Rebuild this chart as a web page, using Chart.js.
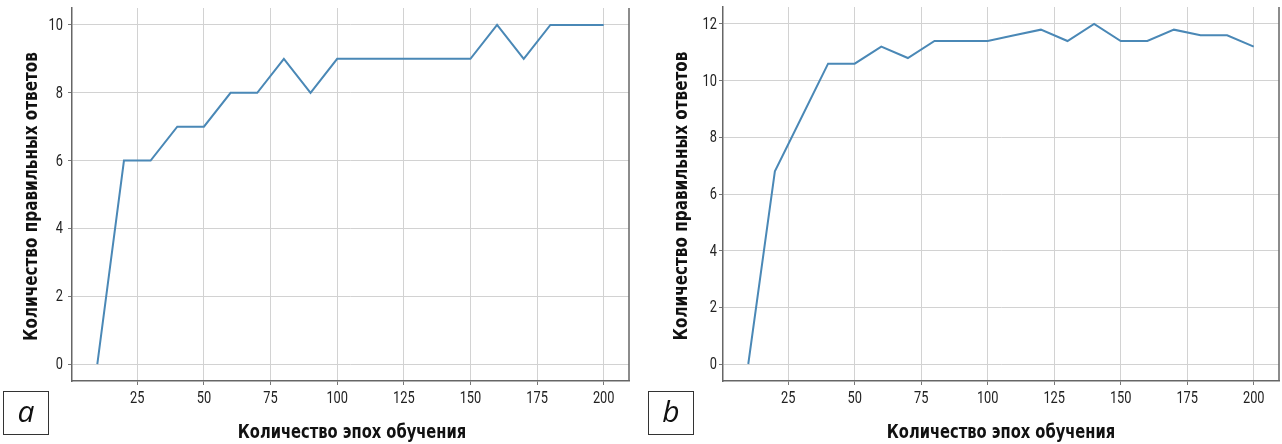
<!DOCTYPE html>
<html>
<head>
<meta charset="utf-8">
<script src="https://cdn.jsdelivr.net/npm/chart.js@4/dist/chart.umd.min.js"></script>
<style>
    body { margin: 0; background: #fff; width: 1282px; height: 444px; position: relative; overflow: hidden; }
    .panel { position: absolute; top: 0; }
    .tag {
        position: absolute; top: 391px; width: 46px; height: 44px;
        border: 1.5px solid #333; box-sizing: border-box;
        font: italic 30px "Open Sans", sans-serif; color: #111;
        display: flex; align-items: center; justify-content: center; line-height: 1;
        padding-bottom: 4px;
    }
</style>
</head>
<body>
<div class="panel" style="left:0"><canvas id="chartA" width="640" height="444"></canvas></div>
<div class="panel" style="left:640px"><canvas id="chartB" width="642" height="444"></canvas></div>
<div class="tag" style="left:3px">a</div>
<div class="tag" style="left:648px">b</div>
<script>
// Data
const epochs = [10, 20, 30, 40, 50, 60, 70, 80, 90, 100, 110, 120, 130, 140, 150, 160, 170, 180, 190, 200];
const correctA = [0, 6, 6, 7, 7, 8, 8, 9, 8, 9, 9, 9, 9, 9, 9, 10, 9, 10, 10, 10];
const correctB = [0, 6.8, 8.7, 10.6, 10.6, 11.2, 10.8, 11.4, 11.4, 11.4, 11.6, 11.8, 11.4, 12, 11.4, 11.4, 11.8, 11.6, 11.6, 11.2];
const xTicks = [25, 50, 75, 100, 125, 150, 175, 200];
const yTicksA = [0, 2, 4, 6, 8, 10];
const yTicksB = [0, 2, 4, 6, 8, 10, 12];

const xTitle = 'Количество эпох обучения';
const yTitle = 'Количество правильных ответов';

const narrow = '"Liberation Sans Narrow", "DejaVu Sans Condensed", "Roboto", sans-serif';

// squeezed text so it looks like the condensed face of the original
function squeezed(ctx, text, x, y, sx, align) {
    ctx.save();
    ctx.translate(x, y);
    ctx.scale(sx, 1);
    ctx.textAlign = align;
    ctx.fillText(text, 0, 0);
    ctx.restore();
}

// right spine, tick labels and axis titles
const framePlugin = {
    id: 'frame',
    afterDraw(chart, args, opts) {
        const { ctx, chartArea, scales } = chart;
        ctx.save();
        ctx.strokeStyle = '#666';
        ctx.lineWidth = 1.5;
        ctx.beginPath();
        ctx.moveTo(chartArea.right, chartArea.top);
        ctx.lineTo(chartArea.right, chartArea.bottom);
        ctx.stroke();

        ctx.fillStyle = '#222';
        ctx.textBaseline = 'middle';
        ctx.font = '16px Roboto, sans-serif';
        scales.x.ticks.forEach(t => {
            squeezed(ctx, String(t.value), scales.x.getPixelForValue(t.value), 399, 0.8, 'center');
        });
        scales.y.ticks.forEach(t => {
            squeezed(ctx, String(t.value), chartArea.left - opts.yLabelGap, scales.y.getPixelForValue(t.value) + 1, 0.8, 'right');
        });

        ctx.fillStyle = '#111';
        ctx.font = 'bold 19px ' + narrow;
        squeezed(ctx, xTitle, opts.xTitleX, 433, 0.86, 'center');

        ctx.translate(opts.yTitleX, (chartArea.top + chartArea.bottom) / 2 + 2);
        ctx.rotate(-Math.PI / 2);
        squeezed(ctx, yTitle, 0, 0, 0.89, 'center');
        ctx.restore();
    }
};

function makeChart(id, values, yTicks, yMin, yMax, leftWidth, padRight, padTop, xTitleX, yTitleX, yLabelGap) {
    const ctx = document.getElementById(id);
    return new Chart(ctx, {
        type: 'line',
        data: {
            datasets: [{
                data: epochs.map((e, i) => ({ x: e, y: values[i] })),
                borderColor: '#4a88b6',
                borderWidth: 2,
                pointRadius: 0,
                tension: 0,
                fill: false
            }]
        },
        options: {
            responsive: false,
            animation: false,
            layout: { padding: { top: padTop, right: padRight, left: 0, bottom: 0 } },
            plugins: {
                legend: { display: false },
                tooltip: { enabled: false },
                frame: { xTitleX: xTitleX, yTitleX: yTitleX, yLabelGap: yLabelGap }
            },
            scales: {
                x: {
                    type: 'linear',
                    min: 0.5,
                    max: 209.5,
                    afterBuildTicks: s => { s.ticks = xTicks.map(v => ({ value: v })); },
                    afterFit: s => { s.height = 444 - 381; s.paddingLeft = 0; s.paddingRight = 0; },
                    grid: { color: '#d2d2d2', lineWidth: 1, tickLength: 4, tickColor: '#777' },
                    border: { display: true, color: '#666', width: 1.5 },
                    ticks: { display: false }
                },
                y: {
                    min: yMin,
                    max: yMax,
                    afterBuildTicks: s => { s.ticks = yTicks.map(v => ({ value: v })); },
                    afterFit: s => { s.width = leftWidth; s.paddingTop = 0; s.paddingBottom = 0; },
                    grid: { color: '#d2d2d2', lineWidth: 1, tickLength: 4, tickColor: '#777' },
                    border: { display: true, color: '#666', width: 1.5 },
                    ticks: { display: false }
                }
            }
        },
        plugins: [framePlugin]
    });
}

makeChart('chartA', correctA, yTicksA, -0.5, 10.5, 72, 11, 8, 352, 32, 9);
makeChart('chartB', correctB, yTicksB, -0.6, 12.6, 83, 3, 7, 1001 - 640, 42, 6);
</script>
</body>
</html>
